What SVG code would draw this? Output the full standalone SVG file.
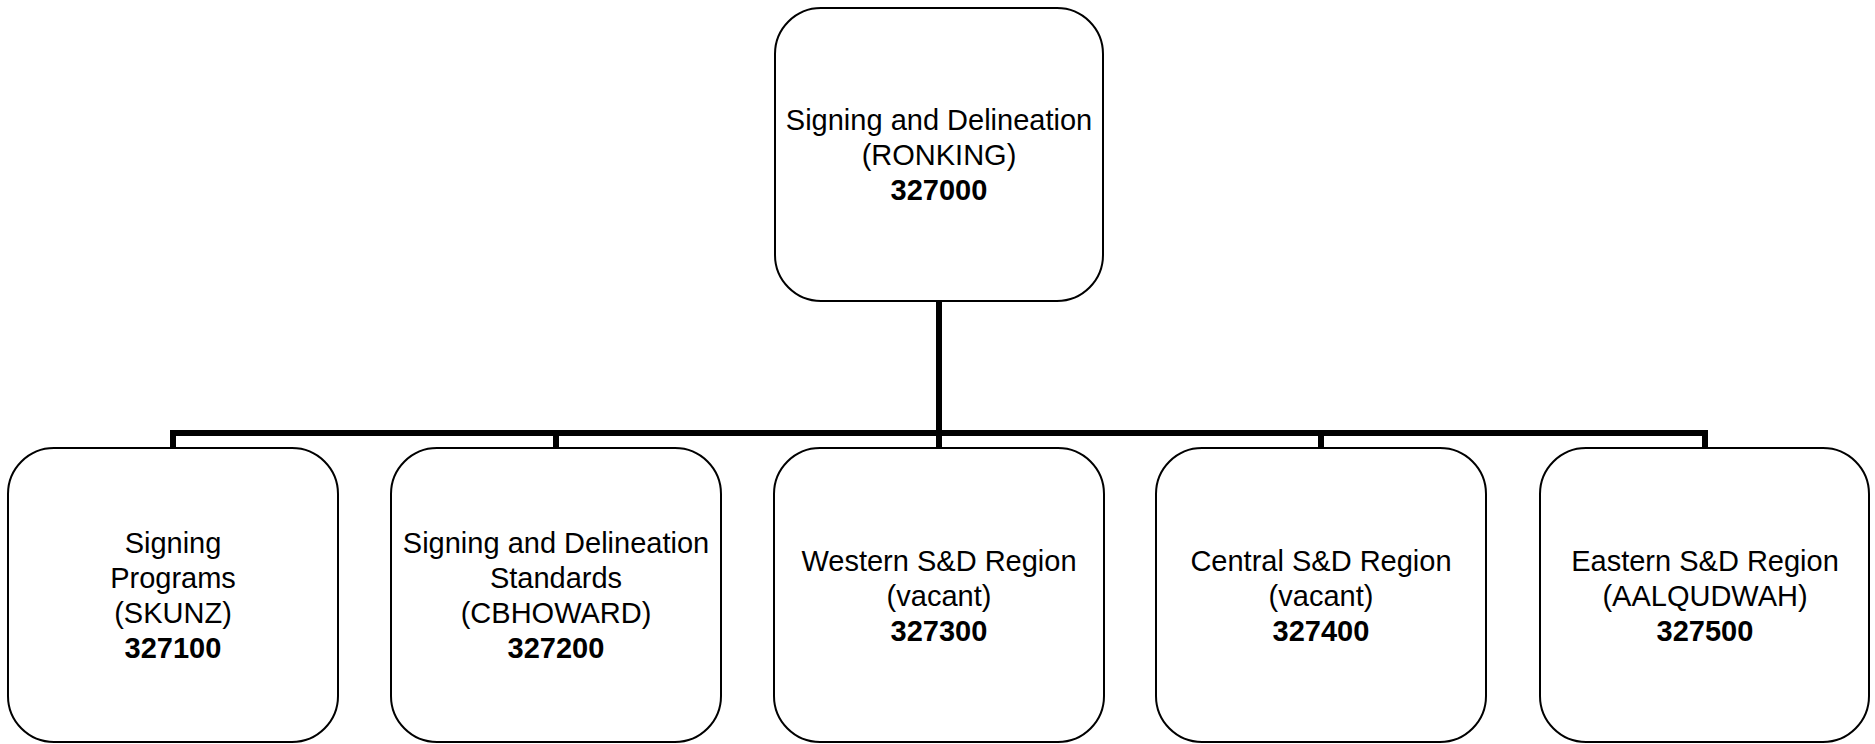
<svg xmlns="http://www.w3.org/2000/svg" width="1875" height="744" viewBox="0 0 1875 744">
<style>
.box{fill:#ffffff;stroke:#000000;stroke-width:2}
.t{font-family:"Liberation Sans",Arial,sans-serif;font-size:29px;fill:#000000;text-anchor:middle}
.b{font-weight:bold}
.conn{fill:none;stroke:#000000;stroke-width:6;stroke-linejoin:miter;stroke-linecap:butt}
</style>
<rect width="1875" height="744" fill="#ffffff"/>
<g id="connectors">
<path class="conn" d="M939,301 V433"/>
<path class="conn" d="M173,448 V433 H1705 V448"/>
<path class="conn" d="M556,433 V448"/>
<path class="conn" d="M939,433 V448"/>
<path class="conn" d="M1321,433 V448"/>
</g>
<g id="node-327000">
<rect class="box" x="775" y="8" width="328" height="293" rx="46" ry="46"/>
<text class="t" x="939" y="130">Signing and Delineation</text>
<text class="t" x="939" y="165">(RONKING)</text>
<text class="t b" x="939" y="200">327000</text>
</g>
<g id="node-327100">
<rect class="box" x="8" y="448" width="330" height="294" rx="46" ry="46"/>
<text class="t" x="173" y="553">Signing</text>
<text class="t" x="173" y="588">Programs</text>
<text class="t" x="173" y="623">(SKUNZ)</text>
<text class="t b" x="173" y="658">327100</text>
</g>
<g id="node-327200">
<rect class="box" x="391" y="448" width="330" height="294" rx="46" ry="46"/>
<text class="t" x="556" y="553">Signing and Delineation</text>
<text class="t" x="556" y="588">Standards</text>
<text class="t" x="556" y="623">(CBHOWARD)</text>
<text class="t b" x="556" y="658">327200</text>
</g>
<g id="node-327300">
<rect class="box" x="774" y="448" width="330" height="294" rx="46" ry="46"/>
<text class="t" x="939" y="571">Western S&amp;D Region</text>
<text class="t" x="939" y="606">(vacant)</text>
<text class="t b" x="939" y="641">327300</text>
</g>
<g id="node-327400">
<rect class="box" x="1156" y="448" width="330" height="294" rx="46" ry="46"/>
<text class="t" x="1321" y="571">Central S&amp;D Region</text>
<text class="t" x="1321" y="606">(vacant)</text>
<text class="t b" x="1321" y="641">327400</text>
</g>
<g id="node-327500">
<rect class="box" x="1540" y="448" width="329" height="294" rx="46" ry="46"/>
<text class="t" x="1705" y="571">Eastern S&amp;D Region</text>
<text class="t" x="1705" y="606">(AALQUDWAH)</text>
<text class="t b" x="1705" y="641">327500</text>
</g>
</svg>
